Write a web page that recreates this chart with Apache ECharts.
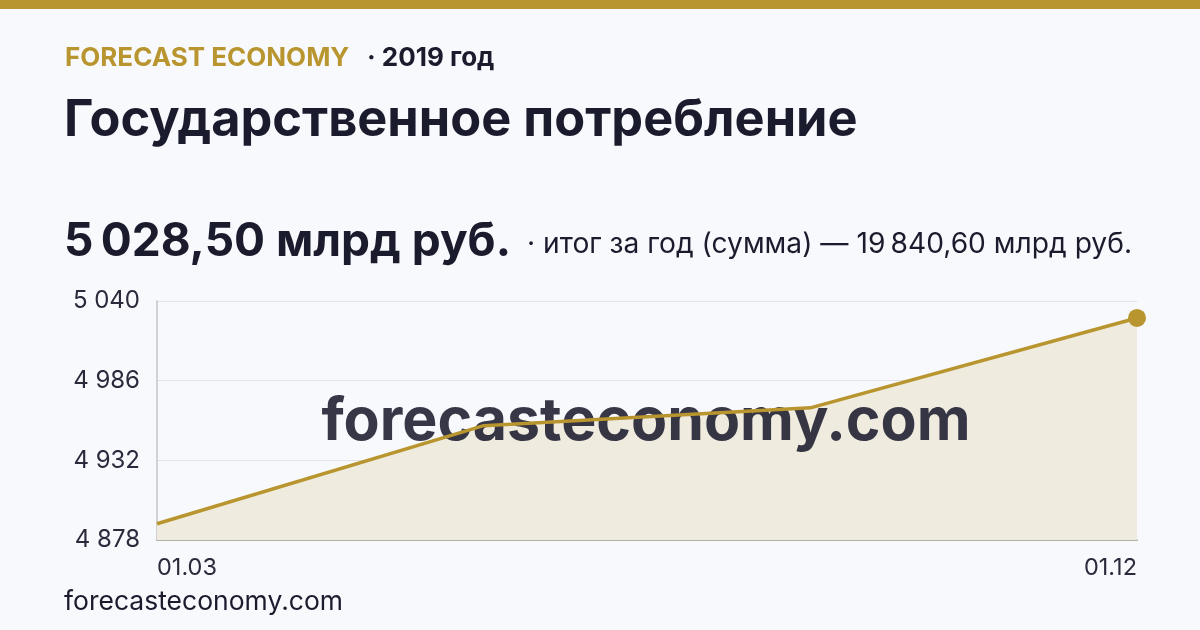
<!DOCTYPE html>
<html><head><meta charset="utf-8">
<script src="https://cdn.jsdelivr.net/npm/echarts@6/dist/echarts.min.js"></script>
<style>html,body{margin:0;padding:0;background:#f8f9fc;}#c{width:1200px;height:630px;}</style>
</head><body><div id="c"></div>
<script>
const categories = ['01.03', '01.06', '01.09', '01.12'];
const values = [4889.0, 4955.5, 4967.6, 5028.5];
const yTicks = [4878, 4932, 4986, 5040];
const brand = 'FORECAST ECONOMY';
const yearText = '· 2019 год';
const title = 'Государственное потребление';
const headline = '5\u2009028,50 млрд руб.';
const subline = '· итог за год (сумма) — 19\u2009840,60 млрд руб.';
const site = 'forecasteconomy.com';

const base = yTicks[0];
const step = yTicks[1] - yTicks[0];
const shifted = values.map(v => +(v - base).toFixed(2));
const fmt = n => String(Math.round(n)).replace(/\B(?=(\d{3})+(?!\d))/g, ' ');
const gold = '#b8952e', dark = '#1b1b2e';
const font = 'Inter, "Noto Sans", sans-serif';

const chart = echarts.init(document.getElementById('c'), null, {renderer: 'canvas'});
chart.setOption({
  backgroundColor: '#f8f9fc',
  animation: false,
  grid: {left: 157, right: 63, top: 301, bottom: 90, containLabel: false},
  xAxis: {
    type: 'category', data: categories, boundaryGap: false,
    axisLine: {show: true, lineStyle: {color: '#b5b0a6', width: 2}},
    axisTick: {show: false},
    axisLabel: {
      interval: 0, color: '#2a2a3c', fontFamily: font, fontSize: 23.5, margin: 16,
      alignMinLabel: 'left', alignMaxLabel: 'right',
      formatter: (v, i) => (i === 0 || i === categories.length - 1) ? v : ''
    },
    splitLine: {show: false}
  },
  yAxis: {
    type: 'value', min: 0, max: yTicks[yTicks.length - 1] - base, interval: step,
    axisLine: {show: true, lineStyle: {color: '#c4c4c8', width: 1.5}},
    axisTick: {show: false},
    axisLabel: {color: '#2a2a3c', fontFamily: font, fontSize: 24, margin: 17, formatter: v => fmt(v + base)},
    splitLine: {show: true, lineStyle: {color: '#e2e2e8', width: 1}}
  },
  graphic: [
    {type: 'rect', left: 0, top: 0, shape: {width: 1200, height: 9}, style: {fill: gold}},
    {type: 'text', left: 65, top: 45, style: {text: brand, font: `bold 26px ${font}`, fill: gold}},
    {type: 'text', left: 367, top: 45, style: {text: yearText, font: `bold 26px ${font}`, fill: dark}},
    {type: 'text', left: 64, top: 95, style: {text: title, font: `bold 50.5px ${font}`, fill: dark}},
    {type: 'text', left: 64, top: 219, style: {text: headline, font: `bold 46px ${font}`, fill: dark}},
    {type: 'text', left: 527, top: 231, style: {text: subline, font: `28.2px ${font}`, fill: dark}},
    {type: 'text', left: 64, top: 589, style: {text: site, font: `26.5px ${font}`, fill: dark}},
    {type: 'text', z: 3, x: 646, y: 422, style: {text: site, font: `bold 59px ${font}`, fill: 'rgba(27,27,46,0.88)', textAlign: 'center', textVerticalAlign: 'middle'}}
  ],
  series: [
    {
      type: 'line', z: 1, data: shifted, symbol: 'none',
      lineStyle: {width: 0, opacity: 0},
      areaStyle: {color: '#efebdf', opacity: 1}
    },
    {
      type: 'line', z: 5, data: shifted, showSymbol: true,
      symbol: 'circle',
      symbolSize: (v, p) => p.dataIndex === shifted.length - 1 ? 18 : 0,
      itemStyle: {color: gold},
      lineStyle: {color: gold, width: 3.5}
    }
  ]
});
</script></body></html>
